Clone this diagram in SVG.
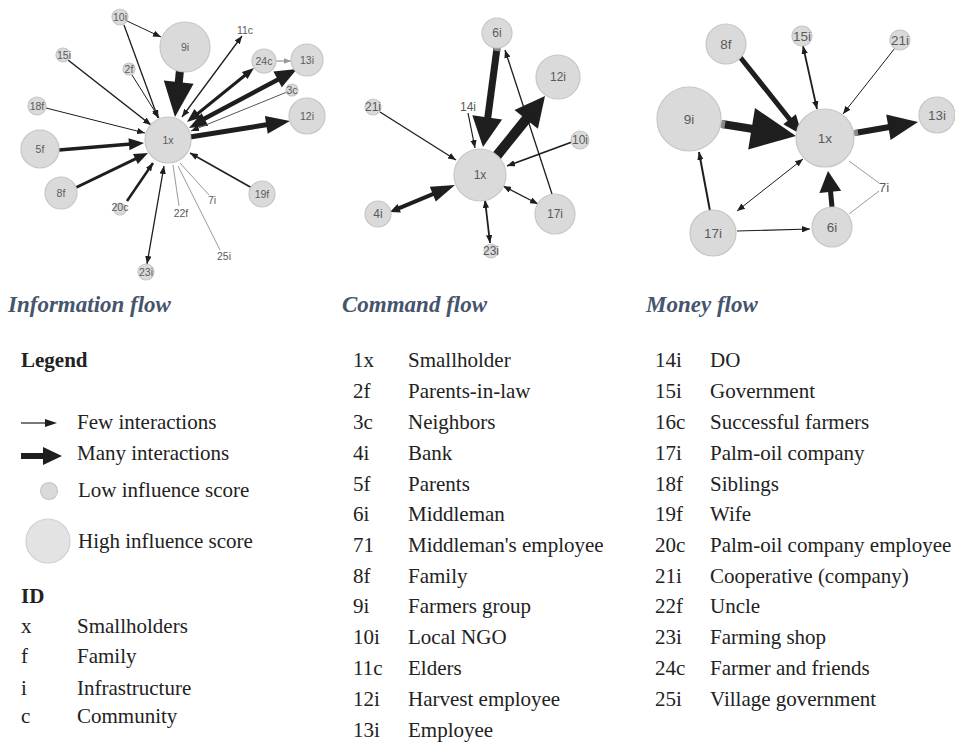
<svg xmlns="http://www.w3.org/2000/svg" width="955" height="743" viewBox="0 0 955 743">
<style>
.n{fill:#dadada;stroke:#c6c6c6;stroke-width:1.2}
.lb{font-family:"Liberation Sans",Arial,sans-serif;fill:#5a5a5a;text-anchor:middle}
.s1{font-size:10.5px}.s2{font-size:12px}.s3{font-size:13.5px}
.e{stroke:#1e1e1e;fill:none}
.g{stroke:#9a9a9a;fill:none;stroke-width:1}
.h{fill:#1e1e1e}
.stub{stroke:#8a8a8a;fill:none}
.tt{font-family:"Liberation Serif","Times New Roman",serif;font-weight:bold;font-style:italic;font-size:23px;fill:#46546c}
.tx{font-family:"Liberation Serif","Times New Roman",serif;font-size:21px;fill:#222}
.bd{font-weight:bold}
</style>
<defs>
<marker id="a" viewBox="0 0 10 8" refX="10" refY="4" markerWidth="8" markerHeight="6.4" markerUnits="userSpaceOnUse" orient="auto-start-reverse"><path d="M0,0L10,4L0,8z" fill="#1e1e1e"/></marker>
<marker id="al" viewBox="0 0 10 8" refX="10" refY="4" markerWidth="7" markerHeight="5.6" markerUnits="userSpaceOnUse" orient="auto"><path d="M0,0L10,4L0,8z" fill="#9a9a9a"/></marker>
</defs>
<rect width="955" height="743" fill="#ffffff"/>

<g id="connectors">
<!-- Information flow -->
<line class="e" x1="180" y1="70" x2="178.7" y2="83" stroke-width="8"/>
<polygon class="h" points="175,117 163.8,80.6 193.6,83.8"/>
<line class="e" x1="200" y1="121" x2="280" y2="78.5" stroke-width="4.5"/>
<polygon class="h" points="297,69 281.8,87.2 273.4,71.4"/>
<polygon class="h" points="189,128 208.2,125.7 201.6,113.3"/>
<line class="e" x1="196" y1="115" x2="246" y2="74.5" stroke-width="3"/>
<polygon class="h" points="254,68 247.5,79 241.9,72"/>
<polygon class="h" points="187,122 201.4,117.5 194.4,108.9"/>
<line class="e" x1="190" y1="137" x2="268" y2="124.5" stroke-width="5"/>
<polygon class="h" points="290,121 267.7,133.7 264.9,115.9"/>
<line class="e" x1="59" y1="150" x2="131" y2="144" stroke-width="3.5"/>
<polygon class="h" points="144,143 129.5,150.2 128.5,138.2"/>
<line class="e" x1="75" y1="188" x2="137" y2="158.2" stroke-width="3"/>
<polygon class="h" points="148,153 137.8,164 133,154"/>
<line class="e" x1="182" y1="117" x2="242" y2="36" stroke-width="1.3" marker-start="url(#a)" marker-end="url(#a)"/>
<line class="e" x1="127" y1="201" x2="153" y2="163" stroke-width="2.5" marker-end="url(#a)"/>
<line class="e" x1="68" y1="60" x2="151" y2="125" stroke-width="1.5" marker-end="url(#a)"/>
<line class="e" x1="124" y1="25" x2="158" y2="118" stroke-width="1.3" marker-end="url(#a)"/>
<line class="e" x1="127" y1="21" x2="161" y2="37" stroke-width="1" marker-end="url(#a)"/>
<line class="e" x1="132" y1="75" x2="159" y2="118" stroke-width="1" marker-end="url(#a)"/>
<line class="e" x1="46" y1="108" x2="145" y2="133" stroke-width="1" marker-end="url(#a)"/>
<line x1="287" y1="92" x2="191" y2="131" stroke="#555" stroke-width="1" marker-end="url(#a)"/>
<line x1="276" y1="61" x2="291" y2="61" stroke="#aaa" stroke-width="1.5" marker-end="url(#al)"/>
<line class="e" x1="252" y1="188" x2="190" y2="153" stroke-width="1.5" marker-end="url(#a)"/>
<line class="e" x1="147" y1="264" x2="164" y2="166" stroke-width="1.3" marker-start="url(#a)" marker-end="url(#a)"/>
<line class="g" x1="179" y1="206" x2="173" y2="165"/>
<line class="g" x1="209" y1="195" x2="180" y2="163"/>
<line class="g" x1="220" y1="250" x2="178" y2="166"/>

<!-- Command flow -->
<line class="e" x1="497" y1="48" x2="487.6" y2="119" stroke-width="7"/>
<line class="stub" x1="497.4" y1="48" x2="497" y2="51" stroke-width="7"/>
<polygon class="h" points="483,147 472.3,115.2 502.1,119.4"/>
<line class="e" x1="495" y1="158" x2="528" y2="117" stroke-width="10"/>
<line class="stub" x1="493" y1="160.5" x2="496" y2="156.8" stroke-width="10"/>
<polygon class="h" points="545,96 537.9,128.8 514.5,110"/>
<line class="e" x1="552" y1="194" x2="505" y2="50" stroke-width="1.3" marker-end="url(#a)"/>
<line class="e" x1="380" y1="112" x2="456" y2="160" stroke-width="1.3" marker-end="url(#a)"/>
<line class="e" x1="468" y1="113" x2="475" y2="148" stroke-width="1.2" marker-end="url(#a)"/>
<line class="e" x1="572" y1="142" x2="507" y2="166" stroke-width="1.8" marker-end="url(#a)"/>
<line class="e" x1="398" y1="208.6" x2="434" y2="193.6" stroke-width="4"/>
<polygon class="h" points="455,185 435.8,201.5 429.8,186.7"/>
<polygon class="h" points="390,212 400.9,212.4 397.5,204"/>
<line class="e" x1="503" y1="186" x2="538" y2="204" stroke-width="1.3" marker-start="url(#a)" marker-end="url(#a)"/>
<line class="e" x1="485" y1="200" x2="490" y2="243" stroke-width="1.8" marker-start="url(#a)" marker-end="url(#a)"/>

<!-- Money flow -->
<line class="e" x1="740" y1="57" x2="790.6" y2="120.5" stroke-width="5"/>
<polygon class="h" points="802,135 783.3,124.3 795.9,114.3"/>
<line class="e" x1="803" y1="46" x2="817" y2="109" stroke-width="1.8" marker-start="url(#a)" marker-end="url(#a)"/>
<line class="e" x1="895" y1="48" x2="843" y2="114" stroke-width="1" marker-end="url(#a)"/>
<line class="e" x1="722" y1="124" x2="753" y2="129" stroke-width="8"/>
<line class="stub" x1="721" y1="123.8" x2="725" y2="124.5" stroke-width="8"/>
<polygon class="h" points="796,136 748.2,149.5 755,108.1"/>
<line class="e" x1="855" y1="133" x2="889.5" y2="127" stroke-width="6"/>
<line class="stub" x1="854" y1="133.2" x2="858" y2="132.5" stroke-width="6"/>
<polygon class="h" points="918,122 890.6,140 886.2,114.4"/>
<line class="e" x1="832" y1="207" x2="830.5" y2="191" stroke-width="5"/>
<polygon class="h" points="828,171 841.2,190.7 819.4,193.1"/>
<line class="e" x1="710" y1="211" x2="699" y2="152" stroke-width="2" marker-end="url(#a)"/>
<line class="e" x1="737" y1="211" x2="803" y2="159" stroke-width="1" marker-start="url(#a)" marker-end="url(#a)"/>
<line class="e" x1="737" y1="231" x2="810" y2="229" stroke-width="1.2" marker-end="url(#a)"/>
<line class="g" x1="849" y1="161" x2="879" y2="183"/>
<line class="g" x1="879" y1="191" x2="849" y2="214"/>
</g>

<!-- Information flow nodes -->
<g id="info-1x"><circle class="n" cx="168" cy="140" r="23"/><text class="lb s1" x="168" y="144">1x</text></g>
<g id="info-9i"><circle class="n" cx="185" cy="47" r="25"/><text class="lb s1" x="185" y="51">9i</text></g>
<g id="info-10i"><circle class="n" cx="120" cy="17" r="8"/><text class="lb s1" x="120" y="21">10i</text></g>
<g id="info-11c"><text class="lb s1" x="245" y="34">11c</text></g>
<g id="info-15i"><circle class="n" cx="63" cy="55" r="7"/><text class="lb s1" x="64" y="59">15i</text></g>
<g id="info-2f"><circle class="n" cx="129" cy="69" r="6"/><text class="lb s1" x="129" y="73">2f</text></g>
<g id="info-24c"><circle class="n" cx="264" cy="61" r="12"/><text class="lb s1" x="264" y="65">24c</text></g>
<g id="info-13i"><circle class="n" cx="307" cy="60" r="16"/><text class="lb s1" x="307" y="64">13i</text></g>
<g id="info-3c"><circle class="n" cx="292" cy="90" r="6"/><text class="lb s1" x="292" y="94">3c</text></g>
<g id="info-12i"><circle class="n" cx="307" cy="116" r="18"/><text class="lb s1" x="307" y="120">12i</text></g>
<g id="info-18f"><circle class="n" cx="37" cy="106" r="9"/><text class="lb s1" x="37" y="110">18f</text></g>
<g id="info-5f"><circle class="n" cx="40" cy="149" r="19"/><text class="lb s1" x="40" y="153">5f</text></g>
<g id="info-8f"><circle class="n" cx="61" cy="193" r="16"/><text class="lb s1" x="61" y="197">8f</text></g>
<g id="info-20c"><circle class="n" cx="120" cy="209" r="6"/><text class="lb s1" x="120" y="211">20c</text></g>
<g id="info-22f"><text class="lb s1" x="181" y="217">22f</text></g>
<g id="info-7i"><text class="lb s1" x="212" y="204">7i</text></g>
<g id="info-19f"><circle class="n" cx="262" cy="194" r="13"/><text class="lb s1" x="262" y="198">19f</text></g>
<g id="info-25i"><text class="lb s1" x="224" y="260">25i</text></g>
<g id="info-23i"><circle class="n" cx="146" cy="272" r="8"/><text class="lb s1" x="146" y="276">23i</text></g>

<!-- Command flow nodes -->
<g id="cmd-1x"><circle class="n" cx="480" cy="175" r="26"/><text class="lb s2" x="480" y="179">1x</text></g>
<g id="cmd-6i"><circle class="n" cx="497" cy="33" r="15"/><text class="lb s2" x="497" y="37">6i</text></g>
<g id="cmd-12i"><circle class="n" cx="558" cy="77" r="22"/><text class="lb s2" x="558" y="81">12i</text></g>
<g id="cmd-21i"><circle class="n" cx="373" cy="107" r="8"/><text class="lb s2" x="373" y="111">21i</text></g>
<g id="cmd-14i"><text class="lb s2" x="468" y="111">14i</text></g>
<g id="cmd-10i"><circle class="n" cx="580" cy="140" r="9"/><text class="lb s2" x="580" y="144">10i</text></g>
<g id="cmd-4i"><circle class="n" cx="378" cy="214" r="13"/><text class="lb s2" x="378" y="218">4i</text></g>
<g id="cmd-17i"><circle class="n" cx="555" cy="214" r="20"/><text class="lb s2" x="555" y="218">17i</text></g>
<g id="cmd-23i"><circle class="n" cx="491" cy="251" r="7"/><text class="lb s2" x="491" y="255">23i</text></g>

<!-- Money flow nodes -->
<g id="money-1x"><circle class="n" cx="825" cy="138" r="29"/><text class="lb s3" x="825" y="143">1x</text></g>
<g id="money-8f"><circle class="n" cx="726" cy="44" r="20"/><text class="lb s3" x="726" y="49">8f</text></g>
<g id="money-15i"><circle class="n" cx="802" cy="36" r="10"/><text class="lb s3" x="802" y="41">15i</text></g>
<g id="money-21i"><circle class="n" cx="900" cy="40" r="10"/><text class="lb s3" x="900" y="45">21i</text></g>
<g id="money-9i"><circle class="n" cx="689" cy="119" r="32"/><text class="lb s3" x="689" y="124">9i</text></g>
<g id="money-13i"><circle class="n" cx="937" cy="115" r="18"/><text class="lb s3" x="937" y="120">13i</text></g>
<g id="money-7i"><text class="lb s3" x="884" y="192">7i</text></g>
<g id="money-17i"><circle class="n" cx="713" cy="233" r="23"/><text class="lb s3" x="713" y="238">17i</text></g>
<g id="money-6i"><circle class="n" cx="832" cy="227" r="20"/><text class="lb s3" x="832" y="232">6i</text></g>

<!-- Titles -->
<text class="tt" x="8" y="312">Information flow</text>
<text class="tt" x="342" y="312">Command flow</text>
<text class="tt" x="646" y="312">Money flow</text>

<!-- Legend -->
<g id="legend">
<text class="tx bd" x="21" y="367">Legend</text>
<line x1="21" y1="423" x2="47" y2="423" stroke="#1e1e1e" stroke-width="1.2"/>
<polygon class="h" points="57,423 45,419 45,427"/>
<text class="tx" x="77" y="429">Few interactions</text>
<line x1="21" y1="456" x2="45" y2="456" stroke="#1e1e1e" stroke-width="6"/>
<polygon class="h" points="62,456 43,447 43,465"/>
<text class="tx" x="77" y="460">Many interactions</text>
<circle class="n" cx="49" cy="491" r="8.5" fill="#e0e0e0"/>
<text class="tx" x="78" y="497">Low influence score</text>
<circle class="n" cx="48" cy="541" r="22" style="fill:#e3e3e3;stroke:#cfcfcf"/>
<text class="tx" x="78" y="548">High influence score</text>
<text class="tx bd" x="21" y="603">ID</text>
<text class="tx" x="21" y="633">x</text><text class="tx" x="77" y="633">Smallholders</text>
<text class="tx" x="21" y="663">f</text><text class="tx" x="77" y="663">Family</text>
<text class="tx" x="21" y="695">i</text><text class="tx" x="77" y="695">Infrastructure</text>
<text class="tx" x="21" y="723">c</text><text class="tx" x="77" y="723">Community</text>
</g>

<g id="id-list-1">
<text class="tx" x="353" y="367">1x</text><text class="tx" x="408" y="367">Smallholder</text>
<text class="tx" x="353" y="398">2f</text><text class="tx" x="408" y="398">Parents-in-law</text>
<text class="tx" x="353" y="429">3c</text><text class="tx" x="408" y="429">Neighbors</text>
<text class="tx" x="353" y="460">4i</text><text class="tx" x="408" y="460">Bank</text>
<text class="tx" x="353" y="491">5f</text><text class="tx" x="408" y="491">Parents</text>
<text class="tx" x="353" y="521">6i</text><text class="tx" x="408" y="521">Middleman</text>
<text class="tx" x="353" y="552">71</text><text class="tx" x="408" y="552">Middleman's employee</text>
<text class="tx" x="353" y="583">8f</text><text class="tx" x="408" y="583">Family</text>
<text class="tx" x="353" y="613">9i</text><text class="tx" x="408" y="613">Farmers group</text>
<text class="tx" x="353" y="644">10i</text><text class="tx" x="408" y="644">Local NGO</text>
<text class="tx" x="353" y="675">11c</text><text class="tx" x="408" y="675">Elders</text>
<text class="tx" x="353" y="706">12i</text><text class="tx" x="408" y="706">Harvest employee</text>
<text class="tx" x="353" y="737">13i</text><text class="tx" x="408" y="737">Employee</text>
</g>

<g id="id-list-2">
<text class="tx" x="655" y="367">14i</text><text class="tx" x="710" y="367">DO</text>
<text class="tx" x="655" y="398">15i</text><text class="tx" x="710" y="398">Government</text>
<text class="tx" x="655" y="429">16c</text><text class="tx" x="710" y="429">Successful farmers</text>
<text class="tx" x="655" y="460">17i</text><text class="tx" x="710" y="460">Palm-oil company</text>
<text class="tx" x="655" y="491">18f</text><text class="tx" x="710" y="491">Siblings</text>
<text class="tx" x="655" y="521">19f</text><text class="tx" x="710" y="521">Wife</text>
<text class="tx" x="655" y="552">20c</text><text class="tx" x="710" y="552">Palm-oil company employee</text>
<text class="tx" x="655" y="583">21i</text><text class="tx" x="710" y="583">Cooperative (company)</text>
<text class="tx" x="655" y="613">22f</text><text class="tx" x="710" y="613">Uncle</text>
<text class="tx" x="655" y="644">23i</text><text class="tx" x="710" y="644">Farming shop</text>
<text class="tx" x="655" y="675">24c</text><text class="tx" x="710" y="675">Farmer and friends</text>
<text class="tx" x="655" y="706">25i</text><text class="tx" x="710" y="706">Village government</text>
</g>
</svg>
